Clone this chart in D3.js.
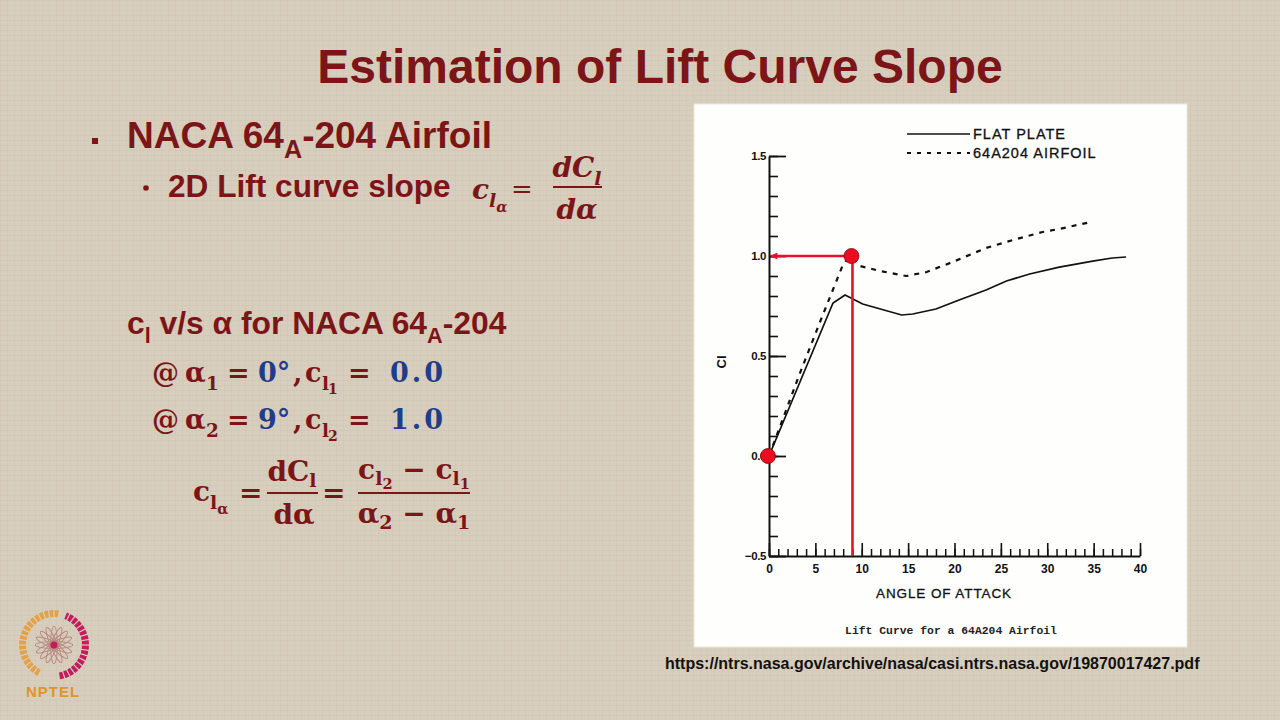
<!DOCTYPE html>
<html>
<head>
<meta charset="utf-8">
<script src="https://cdn.jsdelivr.net/npm/d3@7"></script>
<style>
  body { margin: 0; background: #d8cebd; }
  svg { display: block; }
</style>
</head>
<body>
<svg id="slide" width="1280" height="720"></svg>
<script>
// values
const flatAlpha = [0, 6.9, 8.2, 10.1, 14.3, 15.5, 18, 20.5, 23.4, 25.6, 28.1, 31.3, 34.9, 37, 38.5];
const flatCl    = [0.0, 0.765, 0.805, 0.76, 0.705, 0.71, 0.735, 0.78, 0.83, 0.875, 0.91, 0.944, 0.974, 0.99, 0.995];

const airfoilAlpha = [0, 3.3, 5.5, 8.0, 8.8, 9.8, 12, 14.8, 17, 19.8, 23.4, 26.3, 29.5, 31.3, 34.7];
const airfoilCl    = [0.0, 0.41, 0.67, 0.96, 1.0, 0.95, 0.925, 0.90, 0.92, 0.97, 1.04, 1.08, 1.12, 1.135, 1.17];

// the two points picked for the slope
const pickAlpha = [0, 9];
const pickCl = [0.0, 1.0];

const xTickValues = [0, 5, 10, 15, 20, 25, 30, 35, 40];
const yTickValues = [-0.5, 0.0, 0.5, 1.0, 1.5];
const legendNames = ['FLAT PLATE', '64A204 AIRFOIL'];

const RED = '#7c1518';
const BLUE = '#1f3d8c';
const PEN = '#e8102a';

const svg = d3.select('#slide');

// faint paper texture
const defs = svg.append('defs');
const pat = defs.append('pattern')
   .attr('id', 'paper').attr('width', 7).attr('height', 5).attr('patternUnits', 'userSpaceOnUse');
pat.append('rect').attr('width', 7).attr('height', 5).attr('fill', '#d8cebd');
pat.append('path').attr('d', 'M0,0.5 H7 M0.5,0 V5').attr('stroke', '#d2c7b5').attr('stroke-width', 0.7);
svg.append('rect').attr('width', 1280).attr('height', 720).attr('fill', 'url(#paper)');

svg.append('text')
   .attr('x', 660).attr('y', 83)
   .attr('text-anchor', 'middle')
   .attr('font-family', 'Liberation Sans, Arial, sans-serif')
   .attr('font-weight', 'bold')
   .attr('font-size', 48)
   .attr('fill', RED)
   .text('Estimation of Lift Curve Slope');

// rich text helper: parts with lvl 0 = normal, 1 = subscript, 2 = sub-subscript
function rich(g, x, y, parts, o) {
  const t = g.append('text')
     .attr('x', x).attr('y', y)
     .attr('font-family', o.ff)
     .attr('font-weight', o.fw || 'normal')
     .attr('font-style', o.fst || 'normal')
     .attr('font-size', o.fs)
     .attr('fill', o.fill || RED)
     .attr('text-anchor', o.anchor || 'start');
  const offs = o.offs || [0, 0.28, 0.45];
  let cur = 0;
  parts.forEach(p => {
    const lvl = p.lvl || 0;
    const off = offs[lvl] * o.fs;
    const size = [1, 0.68, 0.52][lvl] * o.fs;
    const ts = t.append('tspan')
       .attr('dy', off - cur)
       .attr('font-size', size)
       .text(p.t);
    if (p.x != null) ts.attr('x', p.x);
    if (p.fill) ts.attr('fill', p.fill);
    if (p.fst) ts.attr('font-style', p.fst);
    if (p.ls) ts.attr('letter-spacing', p.ls);
    cur = off;
  });
  return t;
}

const sans = 'Liberation Sans, Arial, sans-serif';
const mathF = 'DejaVu Serif, serif';

svg.append('rect').attr('x', 92).attr('y', 138).attr('width', 6).attr('height', 6).attr('fill', RED);
rich(svg, 127, 148, [{t: 'NACA 64'}, {t: 'A', lvl: 1}, {t: '-204 Airfoil'}],
     {ff: sans, fw: 'bold', fs: 37});

svg.append('circle').attr('cx', 146).attr('cy', 188).attr('r', 2.8).attr('fill', RED);
rich(svg, 168, 197, [{t: '2D Lift curve slope'}], {ff: sans, fw: 'bold', fs: 31.6});

// c_l_alpha = dC_l / d alpha (top)
rich(svg, 472, 199, [{t: 'c'}, {t: 'l', lvl: 1}, {t: 'α', lvl: 2}],
     {ff: mathF, fst: 'italic', fw: 'bold', fs: 28});
rich(svg, 511, 198, [{t: '='}], {ff: mathF, fs: 26});
rich(svg, 577, 177, [{t: 'dC'}, {t: 'l', lvl: 1}], {ff: mathF, fst: 'italic', fw: 'bold', fs: 28, anchor: 'middle'});
svg.append('line').attr('x1', 553).attr('x2', 602).attr('y1', 187).attr('y2', 187)
   .attr('stroke', RED).attr('stroke-width', 1.8);
rich(svg, 577, 219, [{t: 'dα'}], {ff: mathF, fst: 'italic', fw: 'bold', fs: 28, anchor: 'middle'});

rich(svg, 127, 334, [{t: 'c'}, {t: 'l', lvl: 1}, {t: ' v/s α for NACA 64'}, {t: 'A', lvl: 1}, {t: '-204'}],
     {ff: sans, fw: 'bold', fs: 31.8});

const mrow = {ff: mathF, fw: 'bold', fs: 27};
rich(svg, 153, 382, [
  {t: '@', x: 152}, {t: 'α', x: 185}, {t: '1', lvl: 1, x: 206}, {t: '=', x: 227},
  {t: '0°', x: 258, fill: BLUE}, {t: ',', x: 293}, {t: 'c', x: 305}, {t: 'l', lvl: 1, x: 322},
  {t: '1', lvl: 2, x: 328}, {t: '=', x: 348}, {t: '0.0', x: 390, fill: BLUE, ls: 3}
], mrow);
rich(svg, 153, 429, [
  {t: '@', x: 152}, {t: 'α', x: 185}, {t: '2', lvl: 1, x: 206}, {t: '=', x: 227},
  {t: '9°', x: 258, fill: BLUE}, {t: ',', x: 293}, {t: 'c', x: 305}, {t: 'l', lvl: 1, x: 322},
  {t: '2', lvl: 2, x: 328}, {t: '=', x: 348}, {t: '1.0', x: 390, fill: BLUE, ls: 3}
], mrow);

const frow = Object.assign({}, mrow, {fs: 28, offs: [0, 0.22, 0.36]});
const frowMid = Object.assign({anchor: 'middle'}, frow);
rich(svg, 193, 501, [{t: 'c'}, {t: 'l', lvl: 1}, {t: 'α', lvl: 2}], Object.assign({}, frow, {offs: [0, 0.28, 0.45]}));
rich(svg, 239, 502, [{t: '='}], frow);
rich(svg, 292, 481, [{t: 'dC'}, {t: 'l', lvl: 1}], frowMid);
svg.append('line').attr('x1', 267).attr('x2', 318).attr('y1', 493).attr('y2', 493)
   .attr('stroke', RED).attr('stroke-width', 2);
rich(svg, 294, 524, [{t: 'dα'}], frowMid);
rich(svg, 322, 502, [{t: '='}], frow);
rich(svg, 414, 479, [{t: 'c'}, {t: 'l', lvl: 1}, {t: '2', lvl: 2}, {t: ' − c'}, {t: 'l', lvl: 1}, {t: '1', lvl: 2}],
     frowMid);
svg.append('line').attr('x1', 358).attr('x2', 470).attr('y1', 493).attr('y2', 493)
   .attr('stroke', RED).attr('stroke-width', 2);
rich(svg, 414, 523, [{t: 'α'}, {t: '2', lvl: 1}, {t: ' − α'}, {t: '1', lvl: 1}], frowMid);

// ---- scanned chart panel ----
svg.append('rect')
   .attr('x', 694).attr('y', 104).attr('width', 493).attr('height', 543)
   .attr('fill', '#fefefd').attr('stroke', '#ece8e0');

const xScale = d3.scaleLinear().domain([0, 40]).range([769, 1140]);
const yScale = d3.scaleLinear().domain([-0.5, 1.5]).range([556, 156]);

const chart = svg.append('g').attr('font-family', sans).attr('fill', '#111');

// y axis: ticks point inward, labels outside
chart.append('g')
   .attr('transform', `translate(${xScale(0)},0)`)
   .call(d3.axisLeft(yScale).tickValues(yScale.ticks(20)).tickSize(-9).tickSizeOuter(0).tickFormat(''))
   .call(g => g.select('.domain').remove())
   .call(g => g.selectAll('line').attr('stroke', '#111').attr('stroke-width', 1.6));

chart.append('g')
   .attr('id', 'y-axis')
   .attr('transform', `translate(${xScale(0)},0)`)
   .call(d3.axisLeft(yScale).tickValues(yTickValues).tickSize(-17).tickSizeOuter(0)
          .tickPadding(3).tickFormat(d3.format('.1f')))
   .call(g => g.select('.domain').attr('stroke', '#111').attr('stroke-width', 2))
   .call(g => g.selectAll('line').attr('stroke', '#111').attr('stroke-width', 1.8))
   .call(g => g.selectAll('text').attr('font-size', 11.5).attr('font-weight', 'bold')
                .attr('fill', '#111').attr('letter-spacing', -0.4));

// x axis: ticks point up
chart.append('g')
   .attr('transform', `translate(0,${yScale(-0.5)})`)
   .call(d3.axisBottom(xScale).tickValues(xScale.ticks(40)).tickSize(-7).tickSizeOuter(0).tickFormat(''))
   .call(g => g.select('.domain').remove())
   .call(g => g.selectAll('line').attr('stroke', '#111').attr('stroke-width', 1.5));

chart.append('g')
   .attr('id', 'x-axis')
   .attr('transform', `translate(0,${yScale(-0.5)})`)
   .call(d3.axisBottom(xScale).tickValues(xTickValues).tickSize(-13).tickSizeOuter(0).tickPadding(8))
   .call(g => g.select('.domain').attr('stroke', '#111').attr('stroke-width', 2))
   .call(g => g.selectAll('line').attr('stroke', '#111').attr('stroke-width', 1.6))
   .call(g => g.selectAll('text').attr('font-size', 12).attr('font-weight', 'bold').attr('fill', '#111'));

chart.append('text')
   .attr('x', 944).attr('y', 598)
   .attr('text-anchor', 'middle')
   .attr('font-size', 13.5).attr('letter-spacing', 0.9)
   .attr('stroke', '#111').attr('stroke-width', 0.3)
   .text('ANGLE OF ATTACK');

chart.append('text')
   .attr('transform', `translate(726,${yScale(0.47)}) rotate(-90)`)
   .attr('text-anchor', 'middle')
   .attr('font-size', 13).attr('font-weight', 'bold')
   .text('Cl');

chart.append('text')
   .attr('x', 951).attr('y', 634)
   .attr('text-anchor', 'middle')
   .attr('font-family', 'Liberation Mono, Courier New, monospace')
   .attr('font-size', 11.4).attr('font-weight', 'bold').attr('fill', '#222')
   .text('Lift Curve for a 64A204 Airfoil');

// curves
const line = d3.line().x(d => xScale(d[0])).y(d => yScale(d[1]));
const flatData = d3.zip(flatAlpha, flatCl);
const airfoilData = d3.zip(airfoilAlpha, airfoilCl);

chart.append('path')
   .datum(airfoilData)
   .attr('d', line)
   .attr('fill', 'none').attr('stroke', '#111').attr('stroke-width', 2.2)
   .attr('stroke-dasharray', '5,6');

chart.append('path')
   .datum(flatData)
   .attr('d', line)
   .attr('fill', 'none').attr('stroke', '#111').attr('stroke-width', 1.7);

// legend
const legend = chart.append('g');
legendNames.forEach((name, i) => {
  const ly = 134 + i * 19;
  legend.append('line')
     .attr('x1', 907).attr('x2', 970).attr('y1', ly).attr('y2', ly)
     .attr('stroke', '#111').attr('stroke-width', i ? 2 : 1.5)
     .attr('stroke-dasharray', i ? '4,6' : null);
  legend.append('text')
     .attr('x', 973).attr('y', ly + 5)
     .attr('font-size', 14.5).attr('letter-spacing', 1)
     .attr('stroke', '#111').attr('stroke-width', 0.3)
     .text(name);
});

// red annotation: vertical drop and arrow to the axis
defs.append('marker')
   .attr('id', 'arrow')
   .attr('viewBox', '0 0 10 10')
   .attr('refX', 9).attr('refY', 5)
   .attr('markerWidth', 9).attr('markerHeight', 7)
   .attr('markerUnits', 'userSpaceOnUse')
   .attr('orient', 'auto')
   .append('path').attr('d', 'M0,0 L10,5 L0,10 Z').attr('fill', PEN);

chart.append('line')
   .attr('x1', xScale(pickAlpha[1])).attr('x2', xScale(pickAlpha[1]))
   .attr('y1', yScale(pickCl[1])).attr('y2', yScale(-0.5))
   .attr('stroke', PEN).attr('stroke-width', 2.6);

chart.append('line')
   .attr('x1', xScale(pickAlpha[1])).attr('x2', xScale(0) + 2)
   .attr('y1', yScale(pickCl[1])).attr('y2', yScale(pickCl[1]))
   .attr('stroke', PEN).attr('stroke-width', 2.6)
   .attr('marker-end', 'url(#arrow)');

chart.selectAll('circle.pick')
   .data(d3.zip(pickAlpha, pickCl))
   .enter()
   .append('circle')
   .attr('class', 'pick')
   .attr('cx', d => xScale(d[0]) - 1)
   .attr('cy', d => yScale(d[1]))
   .attr('r', 7.5)
   .attr('fill', '#ec0b1f')
   .attr('stroke', '#7a0a10').attr('stroke-width', 0.8);

// source link
svg.append('text')
   .attr('x', 665).attr('y', 669)
   .attr('font-family', sans).attr('font-weight', 'bold').attr('font-size', 16)
   .attr('fill', '#111')
   .text('https://ntrs.nasa.gov/archive/nasa/casi.ntrs.nasa.gov/19870017427.pdf');

// NPTEL logo
const logo = svg.append('g').attr('transform', 'translate(54,645)');
const arc = d3.arc();
logo.append('path')
   .attr('d', arc({innerRadius: 28, outerRadius: 35, startAngle: -Math.PI * 0.85, endAngle: Math.PI * 0.05}))
   .attr('fill', '#e2a24a');
logo.append('path')
   .attr('d', arc({innerRadius: 28, outerRadius: 35, startAngle: Math.PI * 0.12, endAngle: Math.PI * 0.95}))
   .attr('fill', '#c41c5c');
d3.range(0, 360, 9).forEach(a => {
  const r = a * Math.PI / 180;
  logo.append('line')
     .attr('x1', 27 * Math.sin(r)).attr('y1', -27 * Math.cos(r))
     .attr('x2', 36 * Math.sin(r)).attr('y2', -36 * Math.cos(r))
     .attr('stroke', '#d8cebd').attr('stroke-width', 1.2);
});
d3.range(0, 180, 22.5).forEach(a => {
  logo.append('ellipse')
     .attr('rx', 3.5).attr('ry', 19)
     .attr('transform', `rotate(${a})`)
     .attr('fill', 'none').attr('stroke', '#b98a80').attr('stroke-width', 1);
});
logo.append('circle').attr('r', 3.5).attr('fill', '#c41c5c');
svg.append('text')
   .attr('x', 53).attr('y', 697)
   .attr('text-anchor', 'middle')
   .attr('font-family', sans).attr('font-weight', 'bold').attr('font-size', 15)
   .attr('letter-spacing', 1)
   .attr('fill', '#e0952c')
   .text('NPTEL');
</script>
</body>
</html>
